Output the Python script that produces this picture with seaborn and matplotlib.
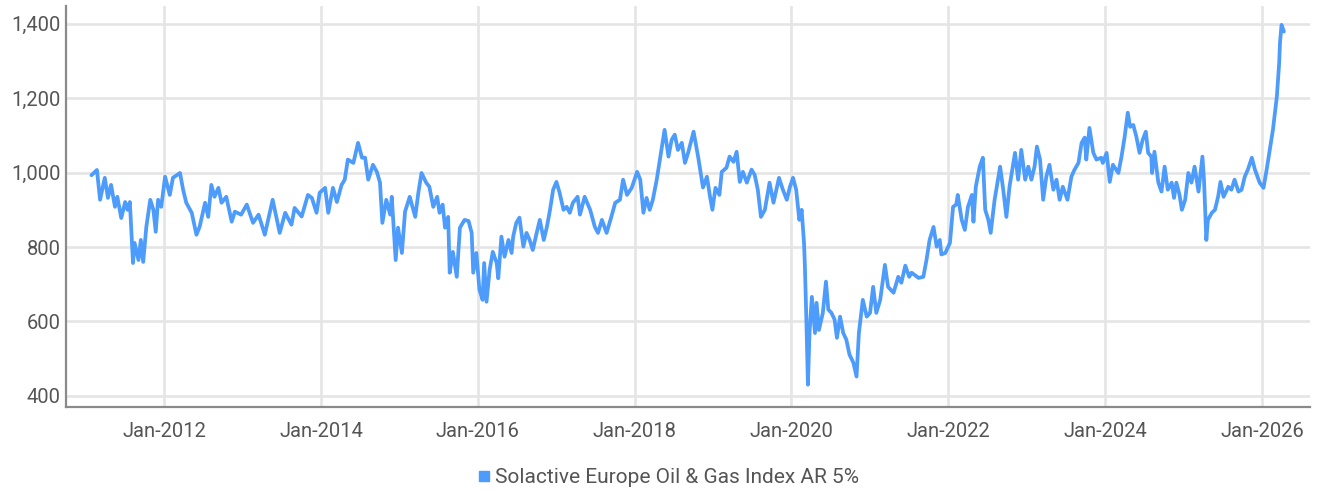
import numpy as np
import pandas as pd
import matplotlib
matplotlib.use("Agg")
import matplotlib.pyplot as plt
import matplotlib.dates as mdates
from matplotlib.lines import Line2D
from matplotlib.ticker import FuncFormatter
import seaborn as sns

# ---- data (decimal years, index level) ----
years = [
    2011.07, 2011.14, 2011.18, 2011.24, 2011.28, 2011.32, 2011.37, 2011.40, 2011.45, 2011.50,
    2011.53, 2011.56, 2011.60, 2011.62, 2011.67, 2011.70, 2011.73, 2011.77, 2011.82, 2011.86,
    2011.89, 2011.92, 2011.96, 2012.01, 2012.07, 2012.11, 2012.20, 2012.24, 2012.28, 2012.35,
    2012.41, 2012.45, 2012.52, 2012.56, 2012.60, 2012.64, 2012.69, 2012.73, 2012.79, 2012.86,
    2012.90, 2012.98, 2013.05, 2013.13, 2013.20, 2013.28, 2013.38, 2013.47, 2013.54, 2013.62,
    2013.66, 2013.75, 2013.83, 2013.88, 2013.94, 2013.98, 2014.05, 2014.09, 2014.15, 2014.20,
    2014.26, 2014.30, 2014.34, 2014.41, 2014.47, 2014.52, 2014.56, 2014.60, 2014.66, 2014.71,
    2014.75, 2014.78, 2014.83, 2014.88, 2014.90, 2014.95, 2014.98, 2015.03, 2015.07, 2015.13,
    2015.20, 2015.24, 2015.28, 2015.34, 2015.38, 2015.43, 2015.48, 2015.51, 2015.55, 2015.58,
    2015.62, 2015.64, 2015.68, 2015.73, 2015.77, 2015.83, 2015.88, 2015.92, 2015.94, 2015.98,
    2016.02, 2016.06, 2016.08, 2016.11, 2016.15, 2016.19, 2016.24, 2016.26, 2016.30, 2016.34,
    2016.39, 2016.43, 2016.45, 2016.49, 2016.53, 2016.58, 2016.62, 2016.66, 2016.70, 2016.75,
    2016.79, 2016.84, 2016.88, 2016.92, 2016.96, 2017.00, 2017.04, 2017.09, 2017.13, 2017.17,
    2017.21, 2017.27, 2017.30, 2017.36, 2017.43, 2017.49, 2017.53, 2017.58, 2017.64, 2017.70,
    2017.75, 2017.81, 2017.85, 2017.90, 2017.96, 2018.03, 2018.07, 2018.11, 2018.15, 2018.19,
    2018.23, 2018.28, 2018.32, 2018.38, 2018.43, 2018.47, 2018.51, 2018.55, 2018.60, 2018.64,
    2018.68, 2018.75, 2018.81, 2018.87, 2018.92, 2018.96, 2018.99, 2019.03, 2019.08, 2019.11,
    2019.17, 2019.21, 2019.26, 2019.30, 2019.34, 2019.38, 2019.43, 2019.49, 2019.53, 2019.57,
    2019.61, 2019.66, 2019.72, 2019.77, 2019.84, 2019.89, 2019.94, 2019.98, 2020.02, 2020.06,
    2020.10, 2020.13, 2020.16, 2020.17, 2020.19, 2020.21, 2020.23, 2020.26, 2020.30, 2020.32,
    2020.35, 2020.40, 2020.44, 2020.47, 2020.51, 2020.55, 2020.58, 2020.62, 2020.66, 2020.70,
    2020.74, 2020.79, 2020.83, 2020.86, 2020.91, 2020.96, 2021.00, 2021.04, 2021.08, 2021.13,
    2021.19, 2021.23, 2021.30, 2021.36, 2021.40, 2021.45, 2021.50, 2021.53, 2021.62, 2021.68,
    2021.72, 2021.76, 2021.81, 2021.85, 2021.89, 2021.91, 2021.96, 2022.02, 2022.06, 2022.10,
    2022.12, 2022.17, 2022.21, 2022.25, 2022.30, 2022.32, 2022.35, 2022.40, 2022.44, 2022.47,
    2022.51, 2022.54, 2022.59, 2022.66, 2022.70, 2022.74, 2022.78, 2022.85, 2022.89, 2022.93,
    2022.98, 2023.02, 2023.06, 2023.10, 2023.13, 2023.17, 2023.21, 2023.25, 2023.29, 2023.34,
    2023.38, 2023.42, 2023.46, 2023.52, 2023.57, 2023.61, 2023.66, 2023.70, 2023.74, 2023.76,
    2023.80, 2023.85, 2023.89, 2023.95, 2023.97, 2024.02, 2024.06, 2024.10, 2024.17, 2024.21,
    2024.25, 2024.29, 2024.32, 2024.36, 2024.40, 2024.44, 2024.48, 2024.52, 2024.55, 2024.59,
    2024.60, 2024.63, 2024.68, 2024.72, 2024.76, 2024.80, 2024.85, 2024.88, 2024.91, 2024.95,
    2024.98, 2025.02, 2025.06, 2025.10, 2025.14, 2025.19, 2025.24, 2025.26, 2025.29, 2025.31,
    2025.36, 2025.40, 2025.44, 2025.47, 2025.51, 2025.57, 2025.61, 2025.65, 2025.70, 2025.74,
    2025.78, 2025.82, 2025.87, 2025.91, 2025.97, 2026.02, 2026.06, 2026.10, 2026.14, 2026.19,
    2026.22, 2026.23, 2026.25, 2026.28,
]
values = [
    993, 1007, 927, 986, 932, 967, 908, 935, 878, 921,
    900, 921, 757, 811, 765, 819, 760, 854, 927, 900,
    841, 927, 908, 989, 940, 986, 999, 954, 919, 892,
    833, 854, 919, 881, 967, 935, 959, 919, 935, 868,
    895, 887, 914, 865, 887, 833, 927, 838, 892, 860,
    905, 882, 940, 932, 892, 946, 959, 892, 959, 921,
    967, 981, 1035, 1026, 1080, 1040, 1040, 981, 1021, 1002,
    973, 865, 927, 887, 935, 765, 852, 784, 895, 935,
    881, 946, 999, 973, 962, 908, 935, 892, 914, 852,
    881, 731, 787, 720, 852, 873, 870, 838, 731, 784,
    685, 658, 757, 653, 739, 787, 757, 716, 828, 774,
    819, 784, 828, 865, 879, 801, 838, 819, 792, 838,
    873, 819, 854, 900, 954, 975, 946, 900, 908, 892,
    919, 935, 887, 935, 900, 854, 838, 873, 838, 881,
    919, 927, 981, 940, 959, 1002, 981, 892, 932, 900,
    927, 981, 1035, 1115, 1043, 1088, 1102, 1061, 1080, 1026,
    1053, 1110, 1040, 960, 989, 935, 900, 959, 940, 1002,
    1013, 1043, 1029, 1056, 975, 1002, 973, 1008, 994, 954,
    881, 900, 973, 919, 986, 954, 927, 962, 986, 954,
    873, 900, 811, 757, 605, 430, 569, 666, 569, 650,
    577, 623, 707, 632, 623, 605, 556, 613, 569, 551,
    511, 489, 452, 569, 658, 613, 623, 693, 623, 658,
    752, 693, 677, 720, 704, 750, 720, 731, 717, 720,
    765, 819, 854, 801, 819, 780, 784, 811, 908, 914,
    940, 873, 846, 908, 940, 868, 962, 1016, 1040, 900,
    873, 838, 927, 1016, 954, 881, 962, 1053, 981, 1061,
    981, 1016, 981, 1016, 1070, 1035, 927, 989, 1021, 954,
    981, 927, 962, 927, 989, 1008, 1026, 1080, 1094, 1035,
    1120, 1053, 1035, 1040, 1026, 1053, 975, 1021, 999, 1043,
    1096, 1161, 1123, 1128, 1096, 1053, 1088, 1110, 1053, 1043,
    999, 1056, 973, 949, 1016, 954, 973, 932, 973, 940,
    900, 927, 999, 973, 1016, 949, 1043, 981, 819, 873,
    892, 900, 935, 975, 935, 962, 954, 981, 949, 954,
    989, 1008, 1040, 1008, 973, 959, 1008, 1061, 1115, 1204,
    1295, 1349, 1397, 1379,
]
series_name = "Solactive Europe Oil & Gas Index AR 5%"
y_ticks = [400, 600, 800, 1000, 1200, 1400]
x_tick_years = [2012, 2014, 2016, 2018, 2020, 2022, 2024, 2026]


def dec_to_date(y):
    base = pd.Timestamp(int(np.floor(y)), 1, 1)
    return base + pd.to_timedelta((y - np.floor(y)) * 365.25, unit="D")


df = pd.DataFrame({
    "date": [dec_to_date(y) for y in years],
    "value": values,
    "series": series_name,
})

sns.set_style("white")
plt.rcParams["font.family"] = ["Roboto", "DejaVu Sans"]

LINE_C = "#4d9bfa"
GRID_C = "#e5e5e5"
AXIS_C = "#8a8a8a"
TEXT_C = "#555555"

fig = plt.figure(figsize=(13.19, 4.91), dpi=100)
ax = fig.add_axes([0.050, 0.171, 0.943, 0.817])

sns.lineplot(data=df, x="date", y="value", ax=ax, color=LINE_C,
             linewidth=2.7, legend=False)

ax.set_xlim(dec_to_date(2010.744), dec_to_date(2026.61))
ax.set_ylim(370, 1448)
ax.set_yticks(y_ticks)
ax.yaxis.set_major_formatter(FuncFormatter(lambda v, p: f"{int(v):,}"))
ax.set_xticks([pd.Timestamp(y, 1, 1) for y in x_tick_years])
ax.xaxis.set_major_formatter(mdates.DateFormatter("%b-%Y"))

ax.grid(True, color=GRID_C, linewidth=1.9)
ax.set_axisbelow(True)
for s in ["top", "right"]:
    ax.spines[s].set_visible(False)
for s in ["left", "bottom"]:
    ax.spines[s].set_color(AXIS_C)
    ax.spines[s].set_linewidth(1.6)

ax.tick_params(axis="both", length=0, labelsize=14.5, colors=TEXT_C)
ax.tick_params(axis="x", pad=11)
ax.tick_params(axis="y", pad=4)
ax.set_xlabel("")
ax.set_ylabel("")

handle = Line2D([0], [0], marker="s", linestyle="none", color=LINE_C,
                markersize=7.5)
fig.legend([handle], [series_name], loc="center", bbox_to_anchor=(0.505, 0.027),
           frameon=False, fontsize=15, handletextpad=0.0, handlelength=1.0,
           labelcolor=TEXT_C)

fig.savefig("out.png", dpi=100)
